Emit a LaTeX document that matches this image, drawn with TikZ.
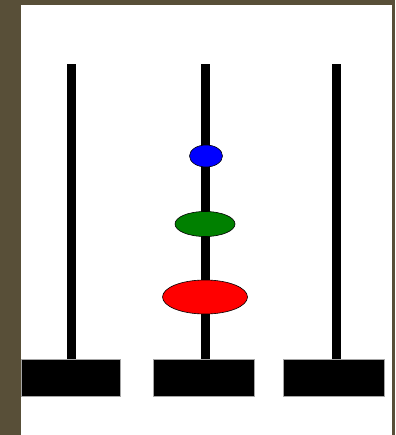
\documentclass[tikz,border=0pt]{standalone}
\usepackage{xcolor}
\usepackage{tikz}
\usetikzlibrary{shapes.geometric}

\definecolor{framebrown}{RGB}{88,79,56}
\definecolor{diskgreen}{RGB}{0,128,0}

\begin{document}
\begin{tikzpicture}[
    x=1pt, y=-1pt,
    base/.style={rectangle, fill=black, draw=black!35, line width=0.5pt, minimum height=37pt, inner sep=0pt},
    pole/.style={draw=black, line width=9pt, line cap=butt},
    disk/.style={ellipse, draw=black, line width=0.6pt, inner sep=0pt}
]
    % frame and canvas
    \fill [framebrown] (0,0) rectangle (395,435);
    \fill [white] (21,5) rectangle (392,435);
    \useasboundingbox (0,0) rectangle (395,435);

    % bases
    \node [base, minimum width=99pt] (b1) at (70.5,377.5) {};
    \node [base, minimum width=101pt] (b2) at (203.5,377.5) {};
    \node [base, minimum width=101pt] (b3) at (333.5,377.5) {};

    % poles
    \coordinate (t1) at (71.5,64.5);
    \coordinate (t2) at (205.5,64.5);
    \coordinate (t3) at (336,64.5);
    \draw [pole] (t1) -- (t1 |- b1.north);
    \draw [pole] (t2) -- (t2 |- b2.north);
    \draw [pole] (t3) -- (t3 |- b3.north);

    % disks on the middle pole
    \node [disk, fill=red, minimum width=85pt, minimum height=34pt] (d3) at (205,297) {};
    \node [disk, fill=diskgreen, minimum width=60pt, minimum height=25pt] (d2) at (205,224) {};
    \node [disk, fill=blue, minimum width=33pt, minimum height=22pt] (d1) at (206,156) {};
\end{tikzpicture}
\end{document}
